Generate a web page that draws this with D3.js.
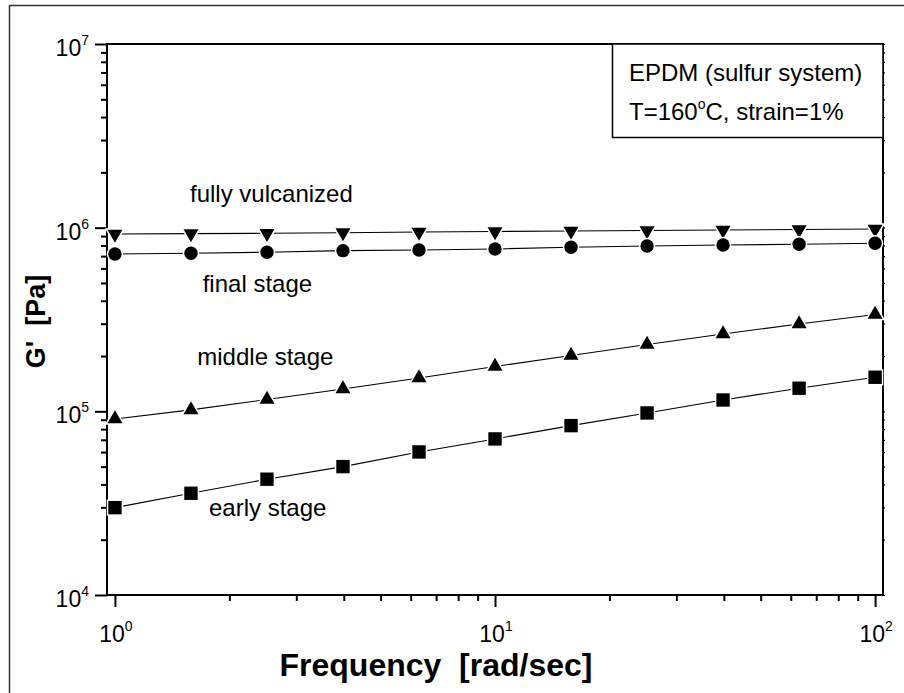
<!DOCTYPE html>
<html>
<head>
<meta charset="utf-8">
<script src="https://cdn.jsdelivr.net/npm/d3@7"></script>
<style>
  body { margin: 0; background: #fff; }
  svg { display: block; }
  text { font-family: "Liberation Sans", Arial, sans-serif; fill: #000; }
</style>
</head>
<body>
<svg id="chart" width="904" height="693"></svg>
<script>
// Storage modulus G' of EPDM versus angular frequency at four cure stages
const frequency = [1, 1.585, 2.512, 3.981, 6.31, 10, 15.85, 25.12, 39.81, 63.1, 100];
const fullyVulcanized = [924000, 927500, 932000, 939000, 947600, 953500, 959400, 965600, 971600, 977700, 983800];
const finalStage = [719300, 725600, 734800, 749700, 756300, 765700, 782300, 795200, 805100, 812200, 822500];
const middleStage = [90900, 101800, 116100, 132400, 152000, 175500, 201500, 231300, 263800, 299100, 337000];
const earlyStage = [29900, 35800, 42700, 50000, 60100, 70750, 83600, 98000, 115300, 133600, 153300];

const seriesNames = ["fully vulcanized", "final stage", "middle stage", "early stage"];
const seriesMarkers = ["triangleDown", "circle", "triangleUp", "square"];

const xTickExponents = [0, 1, 2];
const yTickExponents = [4, 5, 6, 7];

const xTitle = "Frequency  [rad/sec]";
const yTitle = "G'  [Pa]";
const infoTitle = "EPDM (sulfur system)";

const svg = d3.select("#chart");

// page frame
svg.append("rect")
  .attr("x", 9.5).attr("y", 5.5).attr("width", 920).attr("height", 720)
  .attr("fill", "none").attr("stroke", "#333").attr("stroke-width", 1.5);

const plot = { left: 107, right: 883, top: 44, bottom: 595 };

const x = d3.scaleLog().domain([0.953, 104.9]).range([plot.left, plot.right]);
const y = d3.scaleLog().domain([1e4, 1e7]).range([plot.bottom, plot.top]);

// minor/major tick values
const xMinor = [];
for (let e = -1; e <= 2; e++) for (let m = 2; m <= 9; m++) {
  const v = m * Math.pow(10, e);
  if (v >= x.domain()[0] && v <= x.domain()[1]) xMinor.push(v);
}
const yMinor = [];
for (let e = 4; e <= 6; e++) for (let m = 2; m <= 9; m++) yMinor.push(m * Math.pow(10, e));
const xMajor = xTickExponents.map(e => Math.pow(10, e));
const yMajor = yTickExponents.map(e => Math.pow(10, e));

// bottom axis
const gx = svg.append("g").attr("transform", `translate(0,${plot.bottom})`);
gx.call(d3.axisBottom(x).tickValues(xMajor).tickSize(12).tickFormat(""));
gx.append("g").call(d3.axisBottom(x).tickValues(xMinor).tickSize(6).tickFormat(""));
gx.selectAll(".domain").remove();
gx.selectAll("line").attr("stroke", "#000").attr("stroke-width", 2);

// left axis
const gy = svg.append("g").attr("transform", `translate(${plot.left},0)`);
gy.call(d3.axisLeft(y).tickValues(yMajor).tickSize(12).tickFormat(""));
gy.append("g").call(d3.axisLeft(y).tickValues(yMinor).tickSize(6).tickFormat(""));
gy.selectAll(".domain").remove();
gy.selectAll("line").attr("stroke", "#000").attr("stroke-width", 2);

// right axis small ticks
const gr = svg.append("g").attr("transform", `translate(${plot.right},0)`);
gr.call(d3.axisRight(y).tickValues(yMajor.concat(yMinor)).tickSize(2).tickFormat(""));
gr.selectAll(".domain").remove();
gr.selectAll("line").attr("stroke", "#000").attr("stroke-width", 1.2);

// frame of the plot area
svg.append("rect")
  .attr("x", plot.left).attr("y", plot.top)
  .attr("width", plot.right - plot.left).attr("height", plot.bottom - plot.top)
  .attr("fill", "none").attr("stroke", "#000").attr("stroke-width", 2);

// tick labels as 10^n
function powerLabel(sel, exp, fontSize, supSize, supRise) {
  sel.append("tspan").text("10").attr("font-size", fontSize);
  sel.append("tspan").text(exp).attr("font-size", supSize).attr("dy", -supRise);
}
xTickExponents.forEach(e => {
  const t = svg.append("text")
    .attr("x", x(Math.pow(10, e)) + 1).attr("y", 642)
    .attr("text-anchor", "middle");
  powerLabel(t, e, 23, 14, 11);
});
yTickExponents.forEach(e => {
  const t = svg.append("text")
    .attr("x", 89).attr("y", y(Math.pow(10, e)) + 12)
    .attr("text-anchor", "end");
  powerLabel(t, e, 23, 14, 11);
});

// axis titles
svg.append("text")
  .attr("x", 436).attr("y", 676)
  .attr("text-anchor", "middle")
  .attr("font-size", 32).attr("font-weight", "bold")
  .style("white-space", "pre")
  .text(xTitle);
svg.append("text")
  .attr("transform", `translate(45,${321.5}) rotate(-90)`)
  .attr("text-anchor", "middle")
  .attr("font-size", 27).attr("font-weight", "bold")
  .style("white-space", "pre")
  .text(yTitle);

// series
const seriesValues = [fullyVulcanized, finalStage, middleStage, earlyStage];
const line = d3.line().x(d => x(d[0])).y(d => y(d[1]));

function markerPath(kind) {
  const r = 6.7;
  if (kind === "circle") return d3.symbol(d3.symbolCircle, Math.PI * r * r)();
  if (kind === "square") return `M${-r},${-r}H${r}V${r}H${-r}Z`;
  const s = 7.5, h = 13;
  if (kind === "triangleUp") return `M0,${-h * 2 / 3}L${s},${h / 3}L${-s},${h / 3}Z`;
  return `M0,${h * 2 / 3}L${s},${-h / 3}L${-s},${-h / 3}Z`;
}

seriesValues.forEach((vals, i) => {
  const pts = frequency.map((f, j) => [f, vals[j]]);
  const g = svg.append("g").attr("class", "series");
  g.append("path").datum(pts)
    .attr("d", line).attr("fill", "none")
    .attr("stroke", "#000").attr("stroke-width", 1.1);
  g.selectAll("path.mk").data(pts).join("path")
    .attr("class", "mk")
    .attr("transform", d => `translate(${x(d[0])},${y(d[1])})`)
    .attr("d", markerPath(seriesMarkers[i]))
    .attr("fill", "#000")
    .attr("stroke", "#fff").attr("stroke-width", 3)
    .attr("paint-order", "stroke");
});

// curve labels
const curveLabelPos = [[190, 202], [202.7, 291.7], [197.3, 365], [209, 516]];
seriesNames.forEach((name, i) => {
  svg.append("text")
    .attr("x", curveLabelPos[i][0]).attr("y", curveLabelPos[i][1])
    .attr("font-size", 24).text(name);
});

// info box
svg.append("rect")
  .attr("x", 612.5).attr("y", plot.top).attr("width", plot.right - 612.5).attr("height", 93.5)
  .attr("fill", "#fff").attr("stroke", "#000").attr("stroke-width", 1.5);
svg.append("text").attr("x", 629).attr("y", 81).attr("font-size", 24).text(infoTitle);
const cond = svg.append("text").attr("x", 629).attr("y", 120).attr("font-size", 24);
cond.append("tspan").text("T=160");
cond.append("tspan").text("o").attr("font-size", 14).attr("dy", -11);
cond.append("tspan").text("C, strain=1%").attr("dy", 11);
</script>
</body>
</html>
